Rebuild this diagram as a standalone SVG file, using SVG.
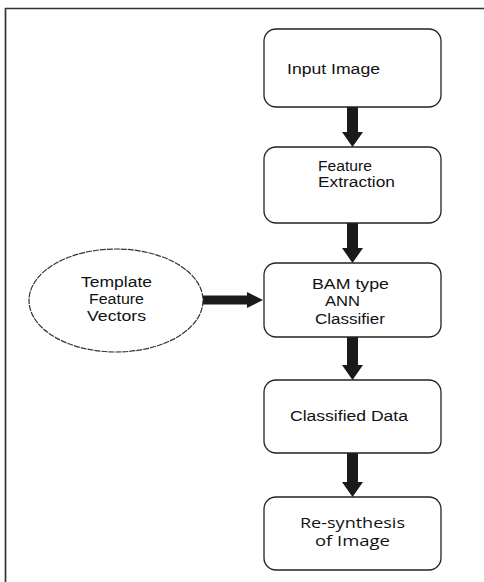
<svg xmlns="http://www.w3.org/2000/svg" width="484" height="582" viewBox="0 0 484 582">
<style>
.box{fill:#fff;stroke:#222;stroke-width:1.3}
.ell{fill:#fff;stroke:#333;stroke-width:1.2;stroke-dasharray:6 1}
.arr{fill:#1a1a1a;stroke:none}
.t{font-family:"Liberation Sans",Arial,sans-serif;font-size:15px;fill:#111}
.t2{font-family:"Open Sans","Liberation Sans",sans-serif;font-size:15px;fill:#111}
.frame{fill:none;stroke:#333;stroke-width:1.7}
</style>
<rect width="484" height="582" fill="#fff"/>
<path class="frame" d="M5.5,582 V8.5 H484"/>
<g id="connectors">
<path class="arr" d="M347,107 H358 V132 H363 L352.5,147 L342,132 H347 Z"/>
<path class="arr" d="M347,223 H358 V248 H363 L352.5,263 L342,248 H347 Z"/>
<path class="arr" d="M347,337 H358 V365 H363 L352.5,380 L342,365 H347 Z"/>
<path class="arr" d="M347,453 H358 V482 H363 L352.5,497 L342,482 H347 Z"/>
<path class="arr" d="M203,295.5 H247 V292 L263,300 L247,308 V304.5 H203 Z"/>
</g>
<g id="input-image">
<rect class="box" x="264" y="29" width="177" height="78" rx="12"/>
<g transform="scale(1.15,1)">
<text class="t" x="249.57" y="74" textLength="80.87" lengthAdjust="spacingAndGlyphs">Input Image</text>
</g>
</g>
<g id="feature-extraction">
<rect class="box" x="264" y="147" width="177" height="76" rx="12"/>
<g transform="scale(1.15,1)">
<text class="t" x="276.52" y="171" textLength="46.96" lengthAdjust="spacingAndGlyphs">Feature</text>
<text class="t" x="276.52" y="187" textLength="66.96" lengthAdjust="spacingAndGlyphs">Extraction</text>
</g>
</g>
<g id="bam-classifier">
<rect class="box" x="264" y="263" width="177" height="74" rx="12"/>
<g transform="scale(1.15,1)">
<text class="t" x="271.3" y="289" textLength="66.96" lengthAdjust="spacingAndGlyphs">BAM type</text>
<text class="t" x="282.61" y="306.5" textLength="30.43" lengthAdjust="spacingAndGlyphs">ANN</text>
<text class="t" x="273.91" y="324" textLength="60.87" lengthAdjust="spacingAndGlyphs">Classifier</text>
</g>
</g>
<g id="classified-data">
<rect class="box" x="264" y="380" width="177" height="73" rx="12"/>
<g transform="scale(1.15,1)">
<text class="t" x="252.17" y="421" textLength="102.61" lengthAdjust="spacingAndGlyphs">Classified Data</text>
</g>
</g>
<g id="resynthesis">
<rect class="box" x="264" y="497" width="177" height="73" rx="12"/>
<g transform="scale(1.15,1)">
<text class="t2" x="260.87" y="528" textLength="91.3" lengthAdjust="spacingAndGlyphs">Re-synthesis</text>
<text class="t2" x="273.91" y="546.5" textLength="65.22" lengthAdjust="spacingAndGlyphs">of Image</text>
</g>
</g>
<g id="template-vectors">
<ellipse class="ell" cx="116" cy="300.5" rx="87" ry="51.5"/>
<g transform="scale(1.15,1)">
<text class="t" x="70.43" y="287.5" textLength="61.74" lengthAdjust="spacingAndGlyphs">Template</text>
<text class="t" x="77.39" y="304" textLength="47.83" lengthAdjust="spacingAndGlyphs">Feature</text>
<text class="t" x="75.65" y="320.5" textLength="51.3" lengthAdjust="spacingAndGlyphs">Vectors</text>
</g>
</g>
</svg>
